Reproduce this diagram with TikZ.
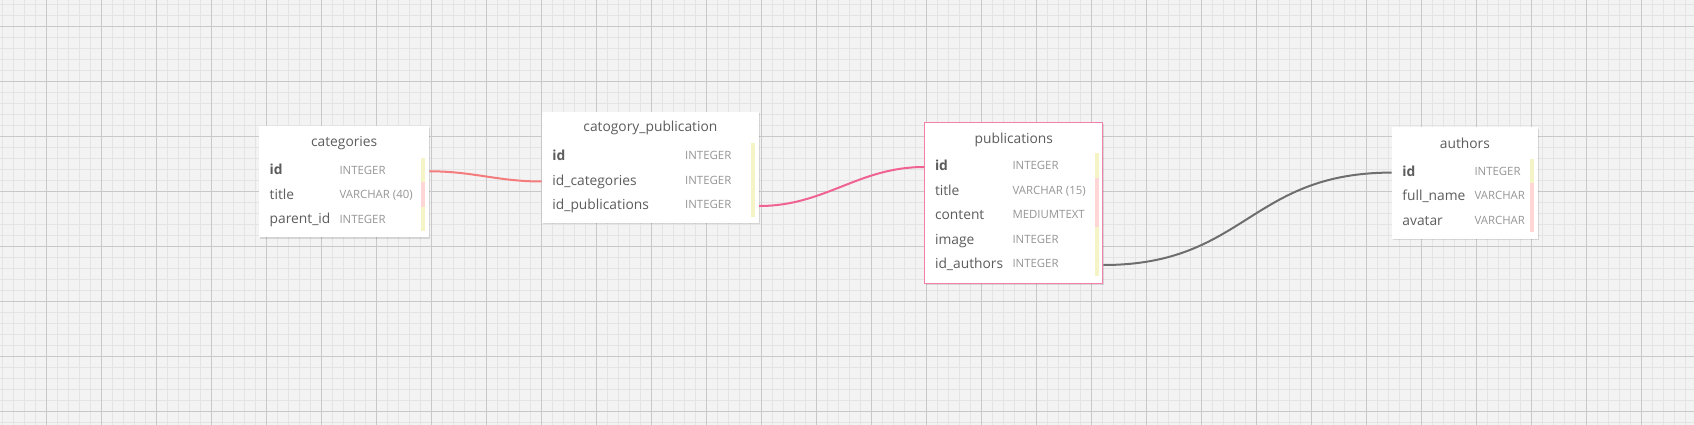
\documentclass[tikz,border=0pt]{standalone}
\usepackage{fontspec}
\setmainfont{Open Sans}
\usetikzlibrary{calc,shadows}
\definecolor{erBack}{RGB}{243,243,243}
\definecolor{erMinor}{RGB}{228,228,228}
\definecolor{erMajor}{RGB}{200,200,200}
\definecolor{erText}{RGB}{92,92,92}
\definecolor{erType}{RGB}{150,150,150}
\definecolor{erKey}{RGB}{245,244,198}
\definecolor{erNull}{RGB}{255,214,214}
\definecolor{erSalmon}{RGB}{244,124,124}
\definecolor{erPink}{RGB}{240,98,146}
\definecolor{erPinkLine}{RGB}{242,128,170}
\definecolor{erGrey}{RGB}{110,110,110}

\begin{document}
\begin{tikzpicture}[
  x=1pt, y=-1pt,
  minor/.style={erMinor, line width=1pt},
  major/.style={erMajor, line width=1pt},
  tbl/.style={rectangle, fill=white, draw=none, inner sep=0pt, anchor=north west,
    drop shadow={shadow xshift=1pt, shadow yshift=-1.5pt, opacity=0.12, fill=black}},
  ttl/.style={font=\fontsize{13.8}{16}\selectfont, text=erText, inner sep=0pt, text height=10pt, text depth=3pt},
  fname/.style={font=\fontsize{13.8}{16}\selectfont, text=erText, anchor=west, inner sep=0pt, text height=10pt, text depth=3pt},
  ftype/.style={font=\fontsize{11.4}{13}\selectfont, text=erType, anchor=west, inner sep=0pt, text height=8pt, text depth=2.5pt},
  link/.style={line width=2pt},
]
\useasboundingbox (0,0) rectangle (1694,425);

% one field row: #1 table, #2 row name, #3 row index, #4 type column offset, #5 field, #6 type
\newcommand{\fieldrow}[6]{%
  \node[fname] (#1-#2) at ($(#1.north west)+(10.5,{45.3+24.5*#3})$) {#5};
  \node[ftype] (#1-#2-t) at ($(#1.north west)+(#4,{45.3+24.5*#3})$) {#6};
}
% one stripe of the key bar: #1 table, #2 row index, #3 colour
\newcommand{\keybar}[3]{%
  \fill[#3] ($(#1.north east)+(-8.5,{31.5+24.5*#2})$) rectangle ++(4,24.5);
}

% ======================= background grid =======================
\fill[erBack] (0,0) rectangle (1694,425);
\foreach \x in {2,13,...,1694} \draw[minor] (\x,0) -- (\x,425);
\foreach \y in {4.3,15.3,...,425} \draw[minor] (0,\y) -- (1694,\y);
\foreach \x in {46,101,...,1694} \draw[major] (\x,0) -- (\x,425);
\foreach \y in {26.3,81.3,...,425} \draw[major] (0,\y) -- (1694,\y);

% ======================= tables =======================
\node[tbl, minimum width=170pt, minimum height=111pt] (cat) at (259,126) {};
\node[ttl] at ($(cat.north)+(0,17.2)$) {categories};
\fieldrow{cat}{id}{0}{80.3}{\bfseries id}{INTEGER}
\fieldrow{cat}{title}{1}{80.3}{title}{VARCHAR (40)}
\fieldrow{cat}{parent}{2}{80.3}{parent\_id}{INTEGER}
\keybar{cat}{0}{erKey}
\keybar{cat}{1}{erNull}
\keybar{cat}{2}{erKey}

\node[tbl, minimum width=217pt, minimum height=110.6pt] (cp) at (541.7,111.7) {};
\node[ttl] at ($(cp.north)+(0,16.7)$) {catogory\_publication};
\fieldrow{cp}{id}{0}{143.3}{\bfseries id}{INTEGER}
\fieldrow{cp}{idcat}{1}{143.3}{id\_categories}{INTEGER}
\fieldrow{cp}{idpub}{2}{143.3}{id\_publications}{INTEGER}
\keybar{cp}{0}{erKey}
\keybar{cp}{1}{erKey}
\keybar{cp}{2}{erKey}

\node[tbl, draw=erPinkLine, line width=1pt, minimum width=178pt, minimum height=161.5pt] (pub) at (924.3,121.7) {};
\node[ttl] at ($(pub.north)+(0,17.8)$) {publications};
\fieldrow{pub}{id}{0}{88}{\bfseries id}{INTEGER}
\fieldrow{pub}{title}{1}{88}{title}{VARCHAR (15)}
\fieldrow{pub}{content}{2}{88}{content}{MEDIUMTEXT}
\fieldrow{pub}{image}{3}{88}{image}{INTEGER}
\fieldrow{pub}{idauth}{4}{88}{id\_authors}{INTEGER}
\keybar{pub}{0}{erKey}
\keybar{pub}{1}{erNull}
\keybar{pub}{2}{erNull}
\keybar{pub}{3}{erKey}
\keybar{pub}{4}{erKey}

\node[tbl, minimum width=146pt, minimum height=111pt] (auth) at (1391.7,127.3) {};
\node[ttl] at ($(auth.north)+(0,17.2)$) {authors};
\fieldrow{auth}{id}{0}{82.6}{\bfseries id}{INTEGER}
\fieldrow{auth}{name}{1}{82.6}{full\_name}{VARCHAR}
\fieldrow{auth}{avatar}{2}{82.6}{avatar}{VARCHAR}
\keybar{auth}{0}{erKey}
\keybar{auth}{1}{erNull}
\keybar{auth}{2}{erNull}

% ======================= relations =======================
\draw[link, erSalmon] (cat.east |- cat-id) to[out=0, in=180] (cp.west |- cp-idcat);
\draw[link, erPink] (cp.east |- cp-idpub) to[out=0, in=180] (pub.west |- pub-id);
\draw[link, erGrey] (pub.east |- pub-idauth) to[out=0, in=180, looseness=1.2] (auth.west |- auth-id);

\end{tikzpicture}
\end{document}
